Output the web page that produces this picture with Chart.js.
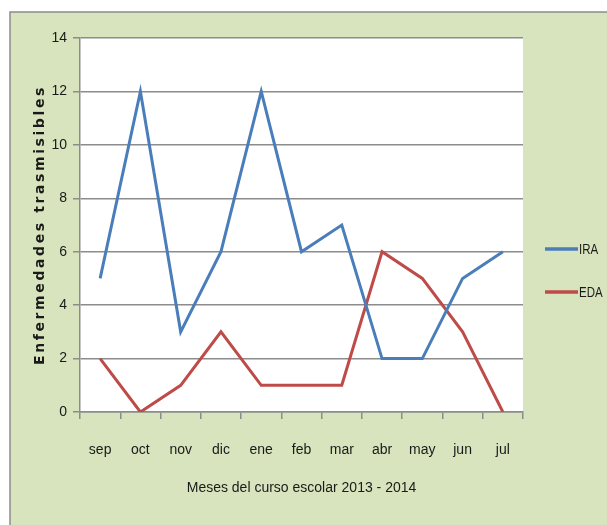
<!DOCTYPE html>
<html>
<head>
<meta charset="utf-8">
<script src="https://cdn.jsdelivr.net/npm/chart.js@4"></script>
<style>
  html, body { margin: 0; padding: 0; background: #ffffff; }
  #wrap { width: 607px; height: 525px; position: relative; }
</style>
</head>
<body>
<div id="wrap"><canvas id="c" width="607" height="525"></canvas></div>
<script>
// Months of the 2013-2014 school year
const months = ['sep', 'oct', 'nov', 'dic', 'ene', 'feb', 'mar', 'abr', 'may', 'jun', 'jul'];
// Cases of respiratory (IRA) and diarrhoeal (EDA) disease per month
const ira = [5, 12, 3, 6, 12, 6, 7, 2, 2, 5, 6];
const eda = [2, 0, 1, 3, 1, 1, 1, 6, 5, 3, 0];
const seriesNames = ['IRA', 'EDA'];
const seriesColors = ['#4a7ebb', '#be4b48'];

const narrow = '"Liberation Sans", Arial, sans-serif';

// Green panel with a grey frame behind the whole chart
const panel = {
  id: 'panel',
  beforeDraw(chart) {
    const ctx = chart.ctx;
    ctx.save();
    ctx.fillStyle = '#d7e4bd';
    ctx.fillRect(10, 12, 597, 513);
    ctx.strokeStyle = '#8c8c8c';
    ctx.lineWidth = 1.5;
    ctx.beginPath();
    ctx.moveTo(10, 525);
    ctx.lineTo(10, 12);
    ctx.lineTo(607, 12);
    ctx.stroke();
    const a = chart.chartArea;
    ctx.fillStyle = '#ffffff';
    ctx.fillRect(a.left, a.top, a.right - a.left, a.bottom - a.top);
    ctx.restore();
  }
};

// Legend on the right, drawn from the datasets
const sideLegend = {
  id: 'sideLegend',
  afterDraw(chart) {
    const ctx = chart.ctx;
    ctx.save();
    ctx.textBaseline = 'middle';
    chart.data.datasets.forEach((ds, i) => {
      const y = 249 + i * 43;
      ctx.strokeStyle = ds.borderColor;
      ctx.lineWidth = 3.5;
      ctx.beginPath();
      ctx.moveTo(545, y);
      ctx.lineTo(578, y);
      ctx.stroke();
      ctx.save();
      ctx.translate(579, y + 1);
      ctx.scale(0.82, 1);
      ctx.font = '14px ' + narrow;
      ctx.fillStyle = '#1a1a1a';
      ctx.fillText(ds.label, 0, 0);
      ctx.restore();
    });
    ctx.restore();
  }
};

// Wider letter spacing for the vertical axis title
function spacedTitle(scale) {
  if (scale._spaced) return;
  scale._spaced = true;
  const orig = scale.drawTitle;
  scale.drawTitle = function () {
    this.ctx.save();
    this.ctx.letterSpacing = '2.6px';
    orig.apply(this, arguments);
    this.ctx.restore();
  };
}

new Chart(document.getElementById('c'), {
  type: 'line',
  data: {
    labels: months,
    datasets: [
      { label: seriesNames[0], data: ira, borderColor: seriesColors[0], backgroundColor: seriesColors[0],
        borderWidth: 3, pointRadius: 0, tension: 0 },
      { label: seriesNames[1], data: eda, borderColor: seriesColors[1], backgroundColor: seriesColors[1],
        borderWidth: 3, pointRadius: 0, tension: 0 }
    ]
  },
  options: {
    responsive: false,
    animation: false,
    layout: { padding: { top: 38, right: 84, bottom: 28, left: 32 } },
    plugins: { legend: { display: false }, tooltip: { enabled: false } },
    scales: {
      x: {
        offset: true,
        grid: { display: true, drawOnChartArea: false, drawTicks: true, tickLength: 7,
                color: '#8c8c8c', lineWidth: 1.5, offset: true },
        border: { display: true, color: '#8c8c8c', width: 1.5 },
        ticks: { color: '#1a1a1a', font: { family: narrow, size: 14 }, padding: 23, maxRotation: 0 },
        title: { display: true, text: 'Meses del curso escolar 2013 - 2014', color: '#1a1a1a',
                 font: { family: narrow, size: 14 }, padding: { top: 10, bottom: 0 } },
        afterFit(scale) { scale.height = 85; }
      },
      y: {
        min: 0, max: 14,
        ticks: { stepSize: 2, color: '#1a1a1a', font: { family: narrow, size: 14 }, padding: 6 },
        grid: { color: '#8c8c8c', lineWidth: 1.5, tickLength: 7 },
        border: { display: true, color: '#8c8c8c', width: 1.5 },
        title: { display: true, text: 'Enfermedades trasmisibles', color: '#1a1a1a',
                 font: { family: '"DejaVu Sans", sans-serif', size: 14, weight: 'bold' },
                 padding: { top: 0, bottom: 4 } },
        afterFit(scale) { scale.width = 48; spacedTitle(scale); }
      }
    }
  },
  plugins: [panel, sideLegend]
});
</script>
</body>
</html>
